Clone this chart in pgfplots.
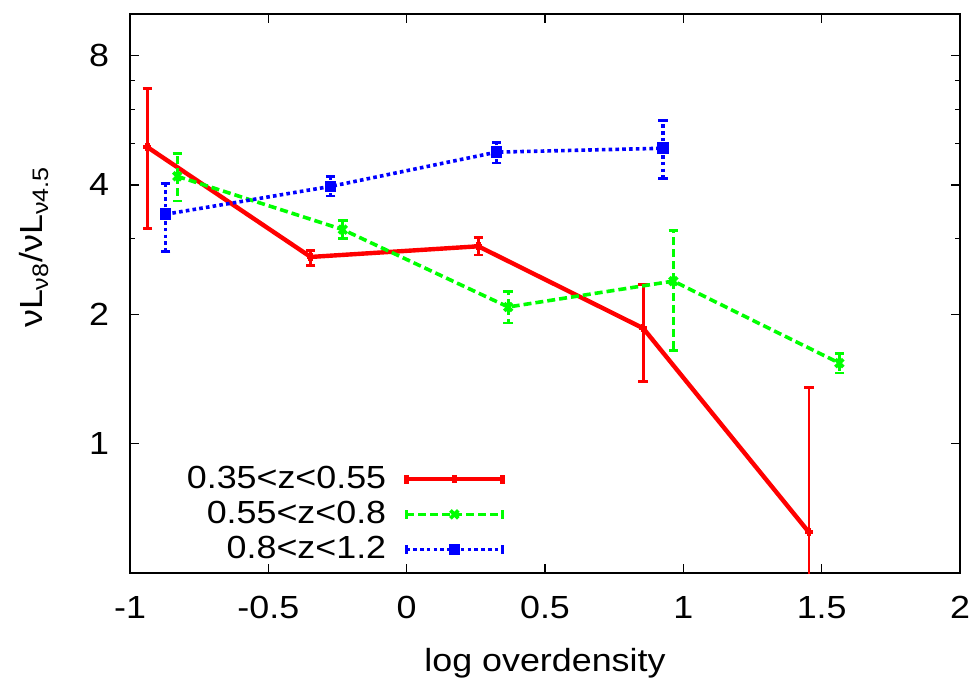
\documentclass[border=0pt]{standalone}
\usepackage{fontspec}
\setmainfont[FakeStretch=1.12]{Liberation Sans}
\usepackage{pgfplots}
\pgfplotsset{compat=1.18}

\definecolor{gpred}{RGB}{255,0,0}
\definecolor{gpgreen}{RGB}{0,255,0}
\definecolor{gpblue}{RGB}{0,0,255}

% gnuplot style legend sample: line with end caps and mark in the middle
\pgfplotsset{
  gpkey/.style={legend image code/.code={
      \draw[##1] (0pt,0pt) -- (48pt,0pt);
      \draw[##1,solid] (0pt,-2.2pt) -- (0pt,2.2pt) (48pt,-2.2pt) -- (48pt,2.2pt);
      \draw[##1] plot coordinates {(24pt,0pt)};
  }},
}

\begin{document}
\fontsize{16}{19}\selectfont
\begin{tikzpicture}
\begin{axis}[
  scale only axis,
  width=415pt, height=279.5pt,
  ymode=log, log basis y=2,
  xmin=-1, xmax=2, ymin=0.5, ymax=10,
  xtick={-1,-0.5,0,0.5,1,1.5,2},
  xticklabels={-1,-0.5,0,0.5,1,1.5,2},
  ytick={1,2,4,8}, yticklabels={1,2,4,8},
  extra y ticks={3,5,6,7}, extra y tick labels={},
  extra y tick style={major tick length=2.5pt},
  tick align=inside,
  major tick length=4.5pt,
  every tick/.style={black, line width=0.8pt},
  axis line style={line width=1.2pt},
  xticklabel style={yshift=-6pt},
  yticklabel style={xshift=-5pt},
  xlabel={log overdensity},
  ylabel={νL\textsubscript{ν8}/νL\textsubscript{ν4.5}},
  xlabel style={at={(rel axis cs:0.5,0)}, anchor=center, yshift=-45pt},
  ylabel style={at={(rel axis cs:0,0.583)}, anchor=center, yshift=48pt},
  legend plot pos=right,
  legend cell align=right,
  legend style={draw=none, fill=none, at={(rel axis cs:0.459,0.207)}, anchor=north east,
    row sep=0pt, column sep=7pt, font=\fontsize{16}{19}\selectfont},
  error bars/y dir=both, error bars/y explicit,
]
% 0.35<z<0.55
\addplot[gpred, line width=2.2pt, mark=+, mark size=2pt, gpkey,
  error bars/error mark=|,
  error bars/error bar style={line width=1.4pt},
  error bars/error mark options={gpred, mark size=2.4pt, line width=1.4pt}]
  table[x=x, y=y, y error plus=ep, y error minus=em] {
  x      y     ep    em
  -0.937 4.90  1.80  1.73
  -0.347 2.72  0.10  0.12
   0.259 2.88  0.14  0.13
   0.855 1.856 0.49  0.46
   1.454 0.622 0.73  0.32
};
\addlegendentry{0.35<z<0.55}
% 0.55<z<0.8
\addplot[gpgreen, line width=1.8pt, dash pattern=on 4pt off 2pt, mark=x, mark size=2.8pt,
  mark options={solid, line width=1.8pt}, gpkey,
  error bars/error mark=|,
  error bars/error bar style={line width=1.6pt, dash pattern=on 4pt off 2pt},
  error bars/error mark options={gpgreen, solid, mark size=2.4pt, line width=1.4pt}]
  table[x=x, y=y, y error plus=ep, y error minus=em] {
  x      y     ep    em
  -0.829 4.19  0.54  0.52
  -0.231 3.15  0.16  0.15
   0.367 2.08  0.18  0.17
   0.964 2.39  0.75  0.74
   1.564 1.54  0.08  0.08
};
\addlegendentry{0.55<z<0.8}
% 0.8<z<1.2
\addplot[gpblue, line width=1.8pt, dash pattern=on 1.8pt off 1.6pt, mark=square*, mark size=2pt,
  mark options={solid}, gpkey,
  error bars/error mark=|,
  error bars/error bar style={line width=1.8pt, dash pattern=on 1.8pt off 1.6pt},
  error bars/error mark options={gpblue, solid, mark size=2.4pt, line width=1.4pt}]
  table[x=x, y=y, y error plus=ep, y error minus=em] {
  x      y     ep    em
  -0.871 3.42  0.61  0.62
  -0.275 3.97  0.22  0.20
   0.325 4.77  0.26  0.27
   0.927 4.87  0.78  0.73
};
\addlegendentry{0.8<z<1.2}
\end{axis}
\pgfresetboundingbox
\useasboundingbox (-65pt,-53.5pt) rectangle (422pt,286.5pt);
\end{tikzpicture}
\end{document}
